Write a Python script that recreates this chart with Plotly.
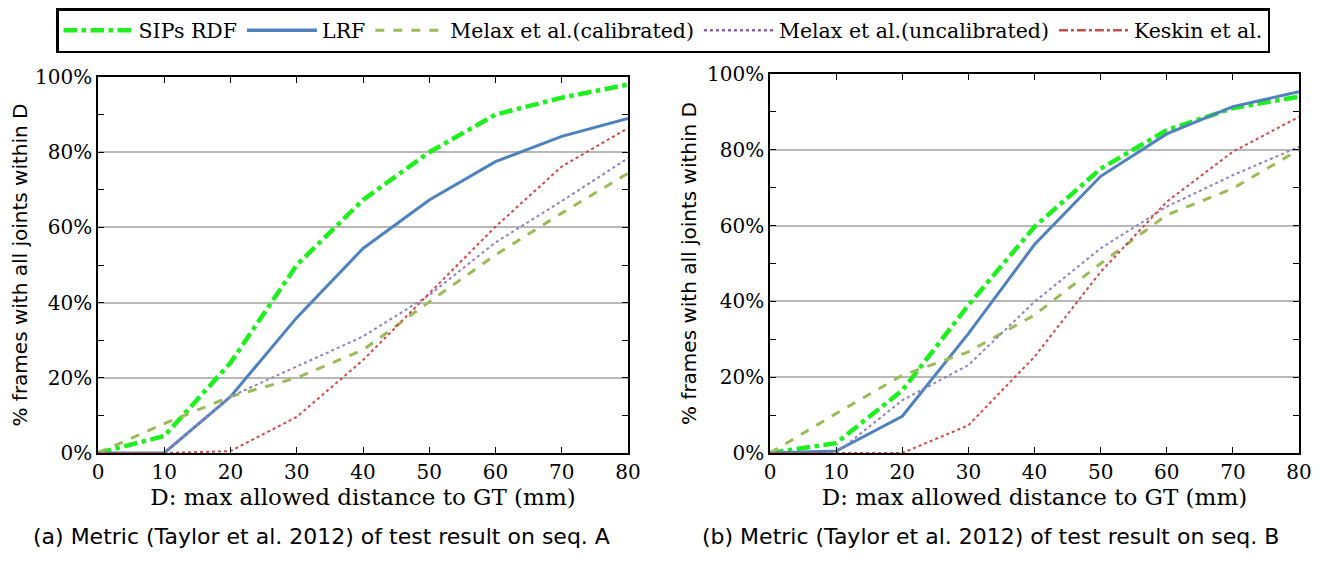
import plotly.graph_objects as go

D = [0, 10, 20, 30, 40, 50, 60, 70, 80]

# Sequence A
a_sips = [0, 4.5, 24, 50, 67.3, 80, 90, 94.5, 98]
a_lrf = [0, 0, 15, 36, 54.4, 67.3, 77.5, 84.2, 89]
a_melax_cal = [0, 7.8, 15, 20, 27.4, 40.2, 52.7, 63.8, 74.4]
a_melax_uncal = [0, 0, 15, 23, 31, 42, 56, 67, 78.4]
a_keskin = [0, 0, 0.5, 9.6, 24.7, 42.5, 60.2, 76.2, 86.4]

# Sequence B
b_sips = [0, 2.6, 16.5, 39, 59.7, 75, 85.2, 91, 94]
b_lrf = [0, 0.5, 9.7, 31.5, 55, 73, 84.2, 91.4, 95.3]
b_melax_cal = [0, 10.4, 20.5, 26.7, 36.4, 50, 62.8, 69.8, 80]
b_melax_uncal = [0, 0, 13.9, 23.2, 39.9, 54, 65, 73.3, 80.8]
b_keskin = [0, 0, 0, 7.3, 25.4, 47.8, 66.3, 79.5, 88.7]

names = ["SIPs RDF", "LRF", "Melax et al.(calibrated)", "Melax et al.(uncalibrated)", "Keskin et al."]
y_ticks = [0, 20, 40, 60, 80, 100]
y_tick_text = ["0%", "20%", "40%", "60%", "80%", "100%"]
x_ticks = [0, 10, 20, 30, 40, 50, 60, 70, 80]
captions = ["(a) Metric (Taylor et al. 2012) of test result on seq. A",
            "(b) Metric (Taylor et al. 2012) of test result on seq. B"]

SERIF = "DejaVu Serif, serif"
SANS = "DejaVu Sans, sans-serif"

# page body has an 8px margin: figure is drawn smaller and coordinates are offset
W, H = 1304, 546
OFF = 8


def px(x):
    return (x - OFF) / W


def py(y):
    return (H - (y - OFF)) / H


styles = [
    dict(color="#1ef01e", width=4.5, dash="dashdot"),
    dict(color="#4f81bd", width=3, dash="solid"),
    dict(color="#9bbb59", width=3, dash="dash"),
    dict(color="#9080c0", width=2, dash="dot"),
    dict(color="#d04848", width=2, dash="dot"),
]
legend_styles = [
    dict(color="#1ef01e", width=4.5, dash="dashdot"),
    dict(color="#4f81bd", width=3.5, dash="solid"),
    dict(color="#9bbb59", width=3, dash="dash"),
    dict(color="#8064a2", width=2.5, dash="dot"),
    dict(color="#c0504d", width=2.5, dash="dashdot"),
]

fig = go.Figure()
series_a = [a_sips, a_lrf, a_melax_cal, a_melax_uncal, a_keskin]
series_b = [b_sips, b_lrf, b_melax_cal, b_melax_uncal, b_keskin]

for i, (nm, ys) in enumerate(zip(names, series_a)):
    fig.add_trace(go.Scatter(x=D, y=ys, mode="lines", name=nm, line=styles[i],
                             showlegend=False, xaxis="x", yaxis="y"))
for i, (nm, ys) in enumerate(zip(names, series_b)):
    fig.add_trace(go.Scatter(x=D, y=ys, mode="lines", name=nm, line=styles[i],
                             showlegend=False, xaxis="x2", yaxis="y2"))
# legend entries
for i, nm in enumerate(names):
    fig.add_trace(go.Scatter(x=[None], y=[None], mode="lines", name=nm, line=legend_styles[i],
                             showlegend=True, xaxis="x", yaxis="y"))

tickfont = dict(family=SERIF, size=20, color="black")
xtitlefont = dict(family=SERIF, size=23, color="black")
ytitlefont = dict(family=SANS, size=20, color="black")
capfont = dict(family=SANS, size=22, color="black")


def xaxis(domain, anchor):
    return dict(domain=domain, anchor=anchor, range=[0, 80], tickvals=x_ticks,
                ticks="inside", ticklen=6, tickcolor="black", mirror="allticks",
                showline=True, linecolor="black", linewidth=1.5, showgrid=False,
                zeroline=False, tickfont=tickfont, automargin=False,
                title=dict(text="D: max allowed distance to GT (mm)", font=xtitlefont, standoff=0))


def yaxis(domain, anchor):
    return dict(domain=domain, anchor=anchor, range=[0, 100], tickvals=y_ticks, ticktext=y_tick_text,
                ticks="inside", ticklen=6, tickcolor="black", mirror="allticks",
                showline=True, linecolor="black", linewidth=1.5, showgrid=True,
                gridcolor="#b8b8b8", gridwidth=1.5, zeroline=False, tickfont=tickfont,
                automargin=False,
                minor=dict(ticks="inside", dtick=10, ticklen=6, tickcolor="black", showgrid=False),
                title=dict(text="% frames with all joints within D", font=ytitlefont, standoff=5))


fig.update_layout(
    width=W, height=H,
    margin=dict(l=0, r=0, t=0, b=0, autoexpand=False),
    paper_bgcolor="white", plot_bgcolor="white",
    xaxis=xaxis([px(98), px(628)], "y"),
    yaxis=yaxis([py(453), py(77)], "x"),
    xaxis2=xaxis([px(770), px(1299)], "y2"),
    yaxis2=yaxis([py(453), py(74)], "x2"),
    legend=dict(orientation="h", x=px(663), xanchor="center", y=1.0, yanchor="top",
                bordercolor="black", borderwidth=2.5, bgcolor="white",
                font=dict(family=SERIF, size=20.5, color="black"),
                itemwidth=70, tracegroupgap=0),
    annotations=[
        dict(text=captions[0], x=px(321), y=py(536), xref="paper", yref="paper",
             showarrow=False, font=capfont, xanchor="center", yanchor="middle"),
        dict(text=captions[1], x=px(990), y=py(536), xref="paper", yref="paper",
             showarrow=False, font=capfont, xanchor="center", yanchor="middle"),
    ],
)

fig.write_html("out.html")
